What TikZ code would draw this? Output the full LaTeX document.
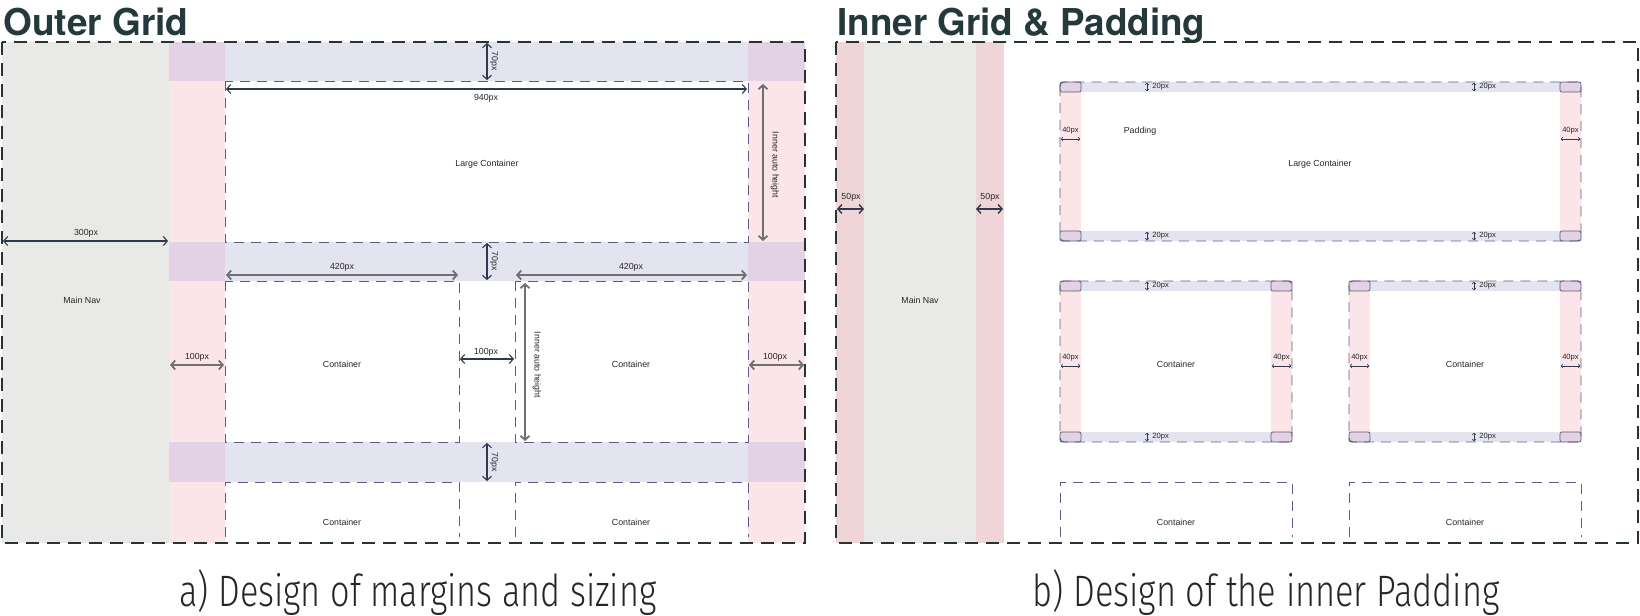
\documentclass[tikz,border=0pt]{standalone}
\usepackage{fontspec}
\usepackage{graphicx}
\setmainfont{Liberation Sans}
\newfontfamily\titlefont{TeX Gyre Heros}
\newfontfamily\capfont{Fira Sans Light}
\usetikzlibrary{arrows.meta}
\definecolor{navgray}{HTML}{E9E9E7}
\definecolor{mpink}{HTML}{FBE5E8}
\definecolor{mpinkdark}{HTML}{EFD5D8}
\definecolor{bandc}{HTML}{E4E4F1}
\definecolor{crossc}{HTML}{E3D1E5}
\definecolor{framec}{HTML}{263434}
\definecolor{dashc}{HTML}{5E5C82}
\definecolor{dimdark}{HTML}{2E3A4C}
\definecolor{dimgray}{HTML}{707072}
\definecolor{titlec}{HTML}{24393B}
\definecolor{txtc}{HTML}{262626}
\definecolor{cornerc}{HTML}{5A5A6E}
\tikzset{
  frm/.style={draw=framec, line width=1.3pt, dash pattern=on 6.5pt off 4pt},
  cont/.style={draw=dashc, line width=0.45pt, dash pattern=on 5pt off 3.5pt},
  dimd/.style={draw=dimdark, line width=0.55pt, {Straight Barb[length=2pt,width=4.5pt]}-{Straight Barb[length=2pt,width=4.5pt]}},
  dimg/.style={draw=dimgray, line width=0.9pt, {Straight Barb[length=2pt,width=4.5pt]}-{Straight Barb[length=2pt,width=4.5pt]}},
  dims/.style={draw=dimdark, line width=0.3pt, {Straight Barb[length=0.8pt,width=1.8pt]}-{Straight Barb[length=0.8pt,width=1.8pt]}},
  lbl/.style={font=\fontsize{4.4}{5}\selectfont, text=txtc, inner sep=0pt},
  slbl/.style={font=\fontsize{3.8}{4}\selectfont, text=txtc, inner sep=0pt},
  cornerbox/.style={fill=crossc, draw=cornerc, line width=0.35pt, rounded corners=1pt}
}
\newcommand\padbox[4]{%
  \fill[bandc] (#1,#2) rectangle (#3,{#2+10});
  \fill[bandc] (#1,{#4-10}) rectangle (#3,#4);
  \fill[mpink] (#1,{#2+10}) rectangle ({#1+21},{#4-10});
  \fill[mpink] ({#3-21},{#2+10}) rectangle (#3,{#4-10});
  \path[cornerbox] (#1,#2) rectangle ({#1+21},{#2+10});
  \path[cornerbox] ({#3-21},#2) rectangle (#3,{#2+10});
  \path[cornerbox] (#1,{#4-10}) rectangle ({#1+21},#4);
  \path[cornerbox] ({#3-21},{#4-10}) rectangle (#3,#4);
  \draw[cont, rounded corners=2pt] (#1,#2) rectangle (#3,#4);
}
\begin{document}
\begin{tikzpicture}[x=0.5pt,y=-0.5pt]
\useasboundingbox (0,0) rectangle (1640,616);
% ---------------- titles
\node[anchor=base west, inner sep=0pt, text=titlec] (t1) at (3,35)
  {\resizebox{92.5pt}{\height}{\fontsize{18.5}{20}\titlefont\bfseries Outer Grid}};
\node[anchor=base west, inner sep=0pt, text=titlec] (t2) at (837,35)
  {\resizebox{184pt}{\height}{\fontsize{18.5}{20}\titlefont\bfseries Inner Grid \& Padding}};
% ---------------- left panel fills
\fill[navgray] (2,42) rectangle (169,543);
\fill[mpink] (169,42) rectangle (225,543);
\fill[mpink] (748,42) rectangle (805,543);
\foreach \ya/\yb in {42/81, 242/281, 442/482}{
  \fill[bandc] (225,\ya) rectangle (748,\yb);
  \fill[crossc] (169,\ya) rectangle (225,\yb);
  \fill[crossc] (748,\ya) rectangle (805,\yb);
}
% containers
\draw[cont] (225,81) rectangle (748,242);
\draw[cont] (225,281) rectangle (459,442);
\draw[cont] (515,281) rectangle (748,442);
\draw[cont] (225,537) -- (225,482) -- (459,482) -- (459,537);
\draw[cont] (515,537) -- (515,482) -- (748,482) -- (748,537);
% texts
\node[lbl] (ln) at (82,300) {Main Nav};
\node[lbl] (llc) at (487,164) {Large Container};
\node[lbl] (lc1) at (342,364) {Container};
\node[lbl] (lc2) at (631,364) {Container};
\node[lbl] (lc3) at (342,522) {Container};
\node[lbl] (lc4) at (631,522) {Container};
% dimensions
\draw[dimd] (487,43) -- (487,80);
\node[lbl, rotate=-90] (d70a) at (494,61) {70px};
\draw[dimd] (226,89) -- (747,89);
\node[lbl] (d940) at (486,98) {940px};
\draw[dimg] (763,84) -- (763,241);
\node[lbl, rotate=-90] (dia) at (775,165) {Inner auto height};
\draw[dimd] (3,241) -- (168,241);
\node[lbl] (d300) at (86,233) {300px};
\draw[dimd] (487,243) -- (487,280);
\node[lbl, rotate=-90] (d70b) at (494,261) {70px};
\draw[dimg] (226,275) -- (458,275);
\node[lbl] (d420a) at (342,267) {420px};
\draw[dimg] (516,275) -- (747,275);
\node[lbl] (d420b) at (631,267) {420px};
\draw[dimg] (525,283) -- (525,441);
\node[lbl, rotate=-90] (dib) at (537,365) {Inner auto height};
\draw[dimg] (170,365) -- (224,365);
\node[lbl] (d100a) at (197,357) {100px};
\draw[dimd] (460,359) -- (514,359);
\node[lbl] (d100b) at (486,352) {100px};
\draw[dimg] (749,365) -- (804,365);
\node[lbl] (d100c) at (775,357) {100px};
\draw[dimd] (487,443) -- (487,481);
\node[lbl, rotate=-90] (d70c) at (494,462) {70px};
% frame
\draw[frm] (2,42) rectangle (805,543);
% ---------------- right panel
\fill[mpinkdark] (836,42) rectangle (864,543);
\fill[navgray] (864,42) rectangle (976,543);
\fill[mpinkdark] (976,42) rectangle (1004,543);
\node[lbl] (rn) at (920,300) {Main Nav};
\draw[dimd, line width=0.7pt] (837,209) -- (864,209);
\node[lbl] (r50a) at (851,197) {50px};
\draw[dimd, line width=0.7pt] (976,209) -- (1003,209);
\node[lbl] (r50b) at (990,197) {50px};
\padbox{1060}{82}{1581}{241}
\padbox{1060}{281}{1292}{442}
\padbox{1349}{281}{1581}{442}
\draw[cont] (1060,537) -- (1060,482) -- (1292,482) -- (1292,537);
\draw[cont] (1349,537) -- (1349,482) -- (1581,482) -- (1581,537);
\node[lbl] (rlc) at (1320,164) {Large Container};
\node[lbl] (rpad) at (1140,131) {Padding};
\node[lbl] (rc1) at (1176,364) {Container};
\node[lbl] (rc2) at (1465,364) {Container};
\node[lbl] (rc3) at (1176,522) {Container};
\node[lbl] (rc4) at (1465,522) {Container};
% 20px marks
\foreach \xx/\ya in {1147/82, 1474/82, 1147/231, 1474/231, 1147/281, 1147/432, 1474/281, 1474/432}{
  \draw[dims] (\xx,\ya+0.8) -- (\xx,\ya+9.2);
  \node[slbl, anchor=west] at (\xx+5,\ya+5) {20px};
}
% 40px marks
\foreach \xx/\yy in {1060/139, 1560/139, 1060/366, 1271/366, 1349/366, 1560/366}{
  \draw[dims] (\xx+0.8,\yy) -- (\xx+20.2,\yy);
  \node[slbl] at (\xx+10.5,\yy-8) {40px};
}
\draw[frm] (836,42) rectangle (1638,543);
% ---------------- captions
\node[anchor=base, inner sep=0pt, text=black!85] (ca) at (418,606)
  {\resizebox{238.5pt}{\height}{\fontsize{22}{24}\capfont a) Design of margins and sizing}};
\node[anchor=base, inner sep=0pt, text=black!85] (cb) at (1266,606)
  {\resizebox{233.5pt}{\height}{\fontsize{22}{24}\capfont b) Design of the inner Padding}};
\end{tikzpicture}
\end{document}
